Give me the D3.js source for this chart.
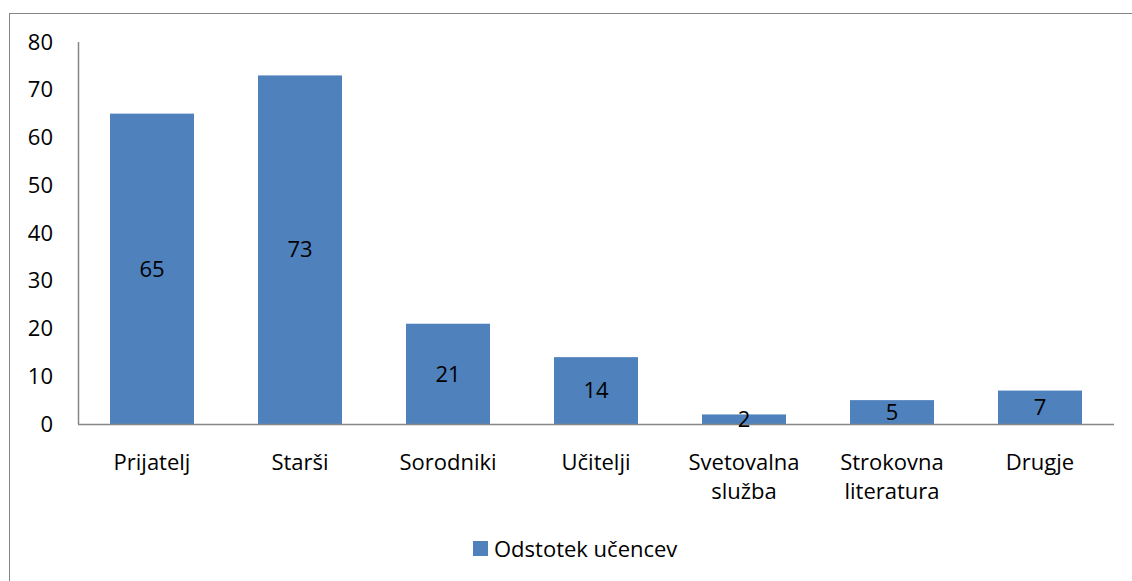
<!DOCTYPE html>
<html>
<head>
<meta charset="utf-8">
<script src="https://cdn.jsdelivr.net/npm/d3@7"></script>
<style>
  body { margin: 0; background: #fff; }
  text { font-family: "Open Sans", Lato, sans-serif; fill: #000; }
</style>
</head>
<body>
<div id="chart"></div>
<script>
const categories = ["Prijatelj", "Starši", "Sorodniki", "Učitelji", "Svetovalna služba", "Strokovna literatura", "Drugje"];
const values = [65, 73, 21, 14, 2, 5, 7];
const yTicks = [0, 10, 20, 30, 40, 50, 60, 70, 80];
const seriesName = "Odstotek učencev";

const width = 1132, height = 581;
const plot = { left: 78, right: 1114, top: 42, bottom: 424 };
const barColor = "#4F81BD";
const fontSize = "22px";

const svg = d3.select("#chart").append("svg")
  .attr("width", width)
  .attr("height", height);

// outer chart border
svg.append("rect")
  .attr("x", 9.5).attr("y", 13.5)
  .attr("width", 1140).attr("height", 600)
  .attr("fill", "none")
  .attr("stroke", "#868686");

const x = d3.scaleBand()
  .domain(categories)
  .range([plot.left, plot.right])
  .paddingInner(64 / 148)
  .paddingOuter(32 / 148);

const y = d3.scaleLinear()
  .domain([0, 80])
  .range([plot.bottom, plot.top]);

// y tick labels
svg.append("g")
  .selectAll("text")
  .data(yTicks)
  .join("text")
  .attr("x", 53)
  .attr("y", d => y(d))
  .attr("dy", "0.35em")
  .attr("text-anchor", "end")
  .attr("font-size", fontSize)
  .text(d => d);

// bars
svg.append("g")
  .selectAll("rect")
  .data(values)
  .join("rect")
  .attr("x", (d, i) => x(categories[i]))
  .attr("y", d => y(d))
  .attr("width", x.bandwidth())
  .attr("height", d => y(0) - y(d))
  .attr("fill", barColor);

// axes lines
svg.append("line")
  .attr("x1", plot.left + 0.5).attr("x2", plot.left + 0.5)
  .attr("y1", plot.top).attr("y2", plot.bottom)
  .attr("stroke", "#868686").attr("stroke-width", 1.5);
svg.append("line")
  .attr("x1", plot.left).attr("x2", plot.right)
  .attr("y1", plot.bottom + 0.5).attr("y2", plot.bottom + 0.5)
  .attr("stroke", "#868686").attr("stroke-width", 1.5);

// value labels
svg.append("g")
  .selectAll("text")
  .data(values)
  .join("text")
  .attr("x", (d, i) => x(categories[i]) + x.bandwidth() / 2)
  .attr("y", d => (y(d) + y(0)) / 2)
  .attr("dy", "0.35em")
  .attr("text-anchor", "middle")
  .attr("font-size", fontSize)
  .text(d => d);

// category labels (wrapped)
const catG = svg.append("g")
  .selectAll("text")
  .data(categories)
  .join("text")
  .attr("x", d => x(d) + x.bandwidth() / 2)
  .attr("y", 470)
  .attr("text-anchor", "middle")
  .attr("font-size", fontSize);
catG.selectAll("tspan")
  .data(d => d.split(" "))
  .join("tspan")
  .attr("x", function () { return d3.select(this.parentNode).attr("x"); })
  .attr("dy", (d, i) => i === 0 ? 0 : 29)
  .text(d => d);

// legend
const legend = svg.append("g");
legend.append("rect")
  .attr("x", 473).attr("y", 541)
  .attr("width", 15).attr("height", 15)
  .attr("fill", barColor);
legend.append("text")
  .attr("x", 494).attr("y", 557)
  .attr("font-size", fontSize)
  .text(seriesName);
</script>
</body>
</html>
